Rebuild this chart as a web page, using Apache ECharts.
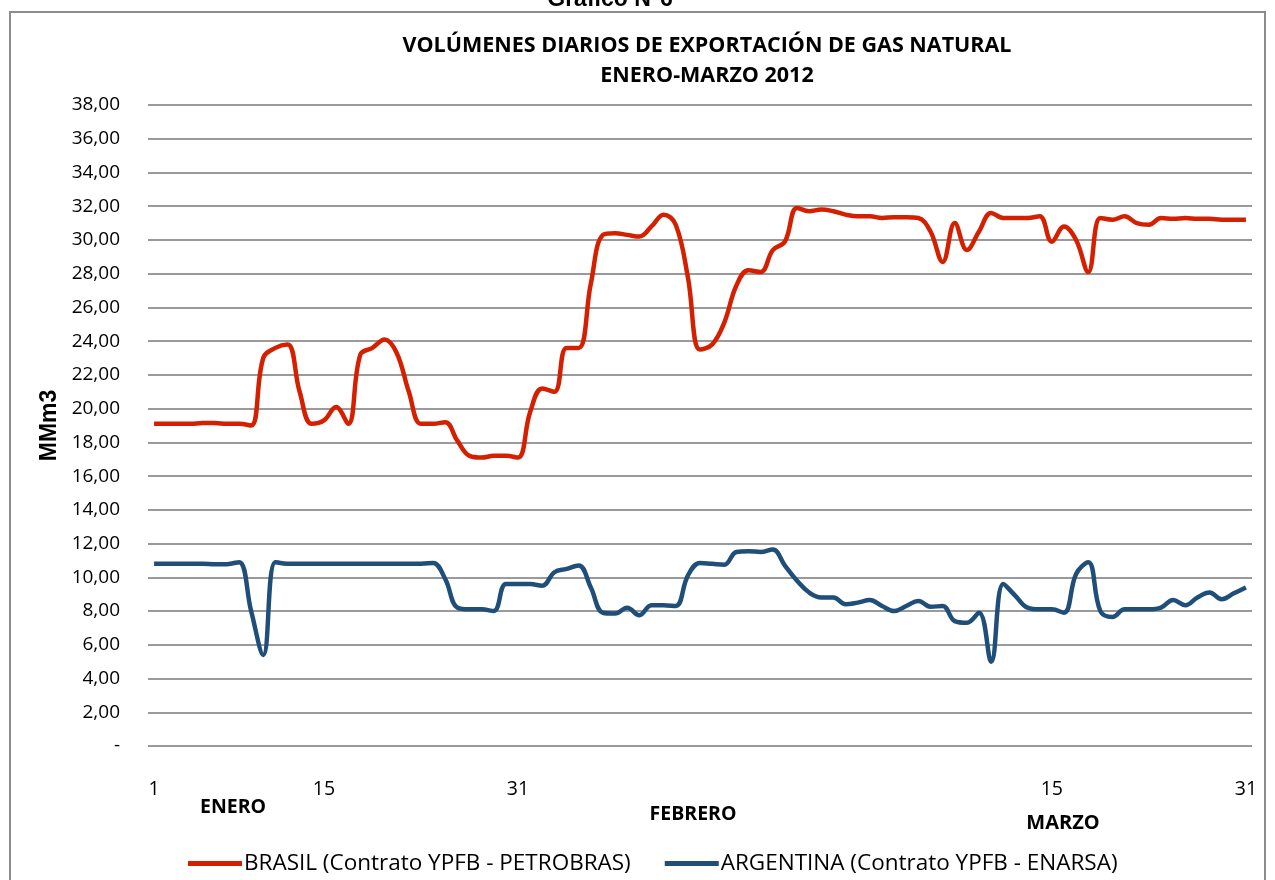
<!DOCTYPE html>
<html>
<head>
<meta charset="utf-8">
<script src="https://cdn.jsdelivr.net/npm/echarts@6/dist/echarts.min.js"></script>
<style>
  html, body { margin: 0; padding: 0; background: #fff; }
  #main { width: 1275px; height: 880px; }
</style>
</head>
<body>
<div id="main"></div>
<script>
// dias de cada mes (enero, febrero, marzo 2012)
var diasEnero = [];
for (var d = 1; d <= 31; d++) diasEnero.push(String(d));
var diasFebrero = [];
for (var d = 1; d <= 29; d++) diasFebrero.push(String(d));
var diasMarzo = [];
for (var d = 1; d <= 31; d++) diasMarzo.push(String(d));
var categorias = diasEnero.concat(diasFebrero, diasMarzo);

// etiquetas visibles del eje x (indice de categoria)
var etiquetasVisibles = [0, 14, 30, 74, 90];

// BRASIL (Contrato YPFB - PETROBRAS), MMm3
var brasilEnero = [19.1, 19.1, 19.1, 19.1, 19.15, 19.15, 19.1, 19.1, 19.0, 23.0,
    23.6, 23.8, 21.0, 19.1, 19.3, 20.1, 19.1, 23.2, 23.6, 24.1,
    23.3, 21.0, 19.1, 19.1, 19.2, 18.1, 17.2, 17.1, 17.2, 17.2, 17.1];
var brasilFebrero = [19.8, 21.2, 21.0, 23.6, 23.6, 27.4, 30.3, 30.4, 30.3, 30.2,
    30.8, 31.5, 30.9, 27.8, 23.5, 23.8, 25.1, 27.3, 28.2, 28.1,
    29.4, 29.9, 31.9, 31.7, 31.8, 31.7, 31.5, 31.4, 31.4];
var brasilMarzo = [31.3, 31.35, 31.35, 31.3, 30.5, 28.7, 31.0, 29.4, 30.5, 31.6,
    31.3, 31.3, 31.3, 31.4, 29.9, 30.8, 30.0, 28.1, 31.3, 31.2,
    31.4, 31.0, 30.9, 31.3, 31.25, 31.3, 31.25, 31.25, 31.2, 31.2, 31.2];

// ARGENTINA (Contrato YPFB - ENARSA), MMm3
var argentinaEnero = [10.8, 10.8, 10.8, 10.8, 10.8, 10.78, 10.78, 10.9, 8.0, 5.4,
    10.9, 10.8, 10.8, 10.8, 10.8, 10.8, 10.8, 10.8, 10.8, 10.8,
    10.8, 10.8, 10.8, 10.85, 9.9, 8.2, 8.1, 8.1, 8.0, 9.6, 9.6];
var argentinaFebrero = [9.6, 9.5, 10.3, 10.5, 10.7, 9.4, 7.9, 7.85, 8.2, 7.75,
    8.35, 8.35, 8.3, 10.1, 10.85, 10.8, 10.75, 11.5, 11.55, 11.5,
    11.65, 10.7, 9.8, 9.1, 8.8, 8.8, 8.4, 8.5, 8.65];
var argentinaMarzo = [8.3, 8.0, 8.3, 8.6, 8.25, 8.3, 7.4, 7.3, 7.9, 5.0,
    9.6, 8.9, 8.2, 8.1, 8.1, 7.9, 10.2, 10.9, 8.0, 7.65,
    8.1, 8.1, 8.1, 8.2, 8.65, 8.35, 8.8, 9.1, 8.7, 9.05, 9.4];

var brasil = brasilEnero.concat(brasilFebrero, brasilMarzo);
var argentina = argentinaEnero.concat(argentinaFebrero, argentinaMarzo);

var fuente = "'Open Sans', sans-serif";
var fuenteArial = "'Liberation Sans', Arial, sans-serif";

var myChart = echarts.init(document.getElementById('main'));

option = {
    backgroundColor: '#fff',
    animation: false,
    title: {
        text: 'VOLÚMENES DIARIOS DE EXPORTACIÓN DE GAS NATURAL\nENERO-MARZO 2012',
        left: 702,
        top: 26,
        textAlign: 'center',
        textStyle: {
            fontFamily: fuente,
            fontSize: 21.5,
            fontWeight: 'bold',
            color: '#000',
            lineHeight: 30
        }
    },
    legend: {
        bottom: 0,
        left: 183,
        itemWidth: 54,
        itemHeight: 5,
        itemGap: 34,
        icon: 'rect',
        textStyle: { fontFamily: fuente, fontSize: 22.5, color: '#000', padding: [0, 0, 0, -3] },
        data: ['BRASIL (Contrato YPFB - PETROBRAS)', 'ARGENTINA (Contrato YPFB - ENARSA)']
    },
    grid: {
        left: 148,
        right: 23,
        top: 105,
        bottom: 134
    },
    xAxis: {
        type: 'category',
        data: categorias,
        boundaryGap: true,
        axisLine: { show: false },
        axisTick: { show: false },
        axisLabel: {
            margin: 33,
            fontFamily: fuente,
            fontSize: 19.5,
            color: '#000',
            interval: function (index) {
                return etiquetasVisibles.indexOf(index) >= 0;
            }
        }
    },
    yAxis: {
        type: 'value',
        min: 0,
        max: 38,
        interval: 2,
        name: 'MMm3',
        nameLocation: 'middle',
        nameGap: 86,
        nameRotate: 90,
        nameTextStyle: { fontFamily: fuenteArial, fontSize: 23, fontWeight: 'bold', color: '#000' },
        axisLine: { show: false },
        axisTick: { show: false },
        axisLabel: {
            margin: 28,
            fontFamily: fuente,
            fontSize: 19,
            color: '#000',
            formatter: function (v) {
                if (v === 0) return '-';
                return v.toFixed(2).replace('.', ',');
            }
        },
        splitLine: { lineStyle: { color: '#9a9a9a', width: 2 } }
    },
    graphic: [
        {
            type: 'rect',
            shape: { x: 10, y: 12, width: 1255, height: 880 },
            style: { fill: 'none', stroke: '#8c8c8c', lineWidth: 2 },
            silent: true
        },
        {
            type: 'text',
            x: 610, y: -12,
            style: { text: 'Gráfico N°6', font: 'bold 23px ' + fuenteArial, fill: '#000', textAlign: 'center' }
        },
        {
            type: 'text',
            x: 233, y: 797,
            style: { text: 'ENERO', font: 'bold 19.5px ' + fuente, fill: '#000', textAlign: 'center' }
        },
        {
            type: 'text',
            x: 693, y: 804,
            style: { text: 'FEBRERO', font: 'bold 19.5px ' + fuente, fill: '#000', textAlign: 'center' }
        },
        {
            type: 'text',
            x: 1063, y: 813,
            style: { text: 'MARZO', font: 'bold 20px ' + fuente, fill: '#000', textAlign: 'center' }
        }
    ],
    series: [
        {
            name: 'BRASIL (Contrato YPFB - PETROBRAS)',
            type: 'line',
            data: brasil,
            smooth: 0.4,
            showSymbol: false,
            lineStyle: { color: '#d42000', width: 4.5 },
            itemStyle: { color: '#d42000' }
        },
        {
            name: 'ARGENTINA (Contrato YPFB - ENARSA)',
            type: 'line',
            data: argentina,
            smooth: 0.4,
            showSymbol: false,
            lineStyle: { color: '#1f4e79', width: 4.5 },
            itemStyle: { color: '#1f4e79' }
        }
    ]
};

if (option && typeof option === "object") {
    myChart.setOption(option, true);
}
</script>
</body>
</html>
